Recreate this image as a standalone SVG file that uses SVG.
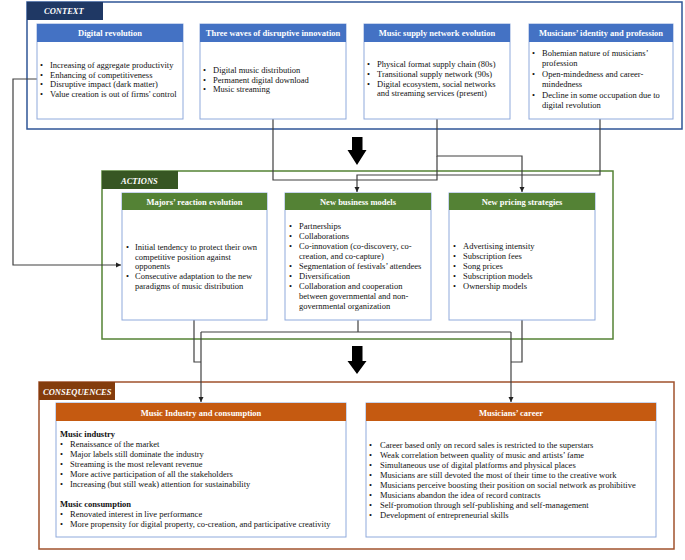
<svg xmlns="http://www.w3.org/2000/svg" width="685" height="560" viewBox="0 0 685 560">
<style>
text{font-family:"Liberation Serif","Times New Roman",serif;font-size:8.5px;fill:#111}
.hd{font-weight:bold;fill:#fff;text-anchor:middle}
.tab{font-weight:bold;font-style:italic;fill:#fff}
.b{font-weight:bold}
.box{fill:#fff;stroke:#8FAADC;stroke-width:1}
.con{fill:none;stroke:#404040;stroke-width:1.2}
</style>
<defs>
<marker id="ah" markerWidth="6" markerHeight="6" refX="5" refY="3" orient="auto" markerUnits="userSpaceOnUse">
<path d="M0,0.5 L5,3 L0,5.5 Z" fill="#222"/>
</marker>
</defs>
<rect width="685" height="560" fill="#fff"/>

<!-- Frames -->
<g id="context-frame">
<rect x="27" y="2" width="655" height="127" fill="none" stroke="#2F5597" stroke-width="1.5"/>
<rect x="27" y="2" width="76" height="18" fill="#1F3864"/>
<text class="tab" x="44" y="14">CONTEXT</text>
</g>
<g id="actions-frame">
<rect x="102" y="171" width="511" height="168" fill="none" stroke="#548235" stroke-width="1.5"/>
<rect x="102" y="171" width="76" height="18" fill="#375623"/>
<text class="tab" x="121" y="183.5">ACTIONS</text>
</g>
<g id="consequences-frame">
<rect x="39" y="382" width="635" height="167" fill="none" stroke="#A0522D" stroke-width="1.5"/>
<rect x="39" y="382" width="76" height="18" fill="#843C0C"/>
<text class="tab" x="43" y="394.5">CONSEQUENCES</text>
</g>

<!-- Connectors -->
<g id="connectors">
<polyline class="con" points="37,79 13,79 13,265 121,265" marker-end="url(#ah)"/>
<polyline class="con" points="273,119 273,180 437,180 437,156"/>
<polyline class="con" points="437,119 437,156 522,156 522,192" marker-end="url(#ah)"/>
<polyline class="con" points="600,119 600,175 357,175 357,192" marker-end="url(#ah)"/>
<polyline class="con" points="194,320 194,362 201,362"/>
<polyline class="con" points="358,320 358,332"/>
<polyline class="con" points="201,332 511,332"/>
<polyline class="con" points="201,332 201,402" marker-end="url(#ah)"/>
<polyline class="con" points="511,332 511,402" marker-end="url(#ah)"/>
<polyline class="con" points="522,320 522,362 511,362"/>
<path d="M352,137 H362.5 V150 H366.5 L357,165 L347.5,150 H352 Z" fill="#000"/>
<path d="M352,346 H362.5 V361 H366.5 L357,374 L347.5,361 H352 Z" fill="#000"/>
</g>

<!-- Context boxes -->
<g id="digital-revolution">
<rect class="box" x="37" y="24" width="146" height="95"/>
<rect x="37" y="24" width="146" height="18" fill="#4472C4"/>
<text class="hd" x="110" y="36">Digital revolution</text>
<text x="40" y="68">•</text><text x="50" y="68">Increasing of aggregate productivity</text>
<text x="40" y="77.7">•</text><text x="50" y="77.7">Enhancing of competitiveness</text>
<text x="40" y="87.4">•</text><text x="50" y="87.4">Disruptive impact (dark matter)</text>
<text x="40" y="97.1">•</text><text x="50" y="97.1">Value creation is out of firms' control</text>
</g>
<g id="three-waves">
<rect class="box" x="200" y="24" width="146" height="95"/>
<rect x="200" y="24" width="146" height="18" fill="#4472C4"/>
<text class="hd" x="273" y="36">Three waves of disruptive innovation</text>
<text x="203" y="73">•</text><text x="213" y="73">Digital music distribution</text>
<text x="203" y="82.7">•</text><text x="213" y="82.7">Permanent digital download</text>
<text x="203" y="92.4">•</text><text x="213" y="92.4">Music streaming</text>
</g>
<g id="music-supply">
<rect class="box" x="364" y="24" width="146" height="95"/>
<rect x="364" y="24" width="146" height="18" fill="#4472C4"/>
<text class="hd" x="437" y="36">Music supply network evolution</text>
<text x="367" y="67">•</text><text x="377" y="67">Physical format supply chain (80s)</text>
<text x="367" y="76.8">•</text><text x="377" y="76.8">Transitional supply network (90s)</text>
<text x="367" y="86.6">•</text><text x="377" y="86.6">Digital ecosystem, social networks</text>
<text x="377" y="96.4">and streaming services (present)</text>
</g>
<g id="musicians-identity">
<rect class="box" x="529" y="24" width="144" height="95"/>
<rect x="529" y="24" width="144" height="18" fill="#4472C4"/>
<text class="hd" x="601" y="36">Musicians’ identity and profession</text>
<text x="532" y="56">•</text><text x="542" y="56">Bohemian nature of musicians’</text>
<text x="542" y="66">profession</text>
<text x="532" y="76.5">•</text><text x="542" y="76.5">Open-mindedness and career-</text>
<text x="542" y="86.5">mindedness</text>
<text x="532" y="97.5">•</text><text x="542" y="97.5">Decline in some occupation due to</text>
<text x="542" y="107.5">digital revolution</text>
</g>

<!-- Action boxes -->
<g id="majors-reaction">
<rect class="box" x="122" y="193" width="145" height="127"/>
<rect x="122" y="193" width="145" height="17" fill="#548235"/>
<text class="hd" x="194.5" y="205">Majors’ reaction evolution</text>
<text x="126" y="250">•</text><text x="135" y="250">Initial tendency to protect their own</text>
<text x="135" y="259.7">competitive position against</text>
<text x="135" y="269.4">opponents</text>
<text x="126" y="279.1">•</text><text x="135" y="279.1">Consecutive adaptation to the new</text>
<text x="135" y="288.8">paradigms of music distribution</text>
</g>
<g id="business-models">
<rect class="box" x="285" y="193" width="146" height="127"/>
<rect x="285" y="193" width="146" height="17" fill="#548235"/>
<text class="hd" x="358" y="205">New business models</text>
<text x="289" y="228.5">•</text><text x="299" y="228.5">Partnerships</text>
<text x="289" y="238.5">•</text><text x="299" y="238.5">Collaborations</text>
<text x="289" y="248.5">•</text><text x="299" y="248.5">Co-innovation (co-discovery, co-</text>
<text x="299" y="258.5">creation, and co-capture)</text>
<text x="289" y="268.5">•</text><text x="299" y="268.5">Segmentation of festivals’ attendees</text>
<text x="289" y="278.5">•</text><text x="299" y="278.5">Diversification</text>
<text x="289" y="288.5">•</text><text x="299" y="288.5">Collaboration and cooperation</text>
<text x="299" y="298.5">between governmental and non-</text>
<text x="299" y="308.5">governmental organization</text>
</g>
<g id="pricing-strategies">
<rect class="box" x="449" y="193" width="146" height="127"/>
<rect x="449" y="193" width="146" height="17" fill="#548235"/>
<text class="hd" x="522" y="205">New pricing strategies</text>
<text x="453" y="248.5">•</text><text x="463" y="248.5">Advertising intensity</text>
<text x="453" y="258.5">•</text><text x="463" y="258.5">Subscription fees</text>
<text x="453" y="268.5">•</text><text x="463" y="268.5">Song prices</text>
<text x="453" y="278.5">•</text><text x="463" y="278.5">Subscription models</text>
<text x="453" y="288.5">•</text><text x="463" y="288.5">Ownership models</text>
</g>

<!-- Consequence boxes -->
<g id="music-industry">
<rect class="box" x="56" y="403" width="290" height="134"/>
<rect x="56" y="403" width="290" height="18" fill="#C55A11"/>
<text class="hd" x="201" y="416">Music Industry and consumption</text>
<text class="b" x="60" y="437">Music industry</text>
<text x="60" y="446.5">•</text><text x="70" y="446.5">Renaissance of the market</text>
<text x="60" y="456.7">•</text><text x="70" y="456.7">Major labels still dominate the industry</text>
<text x="60" y="466.9">•</text><text x="70" y="466.9">Streaming is the most relevant revenue</text>
<text x="60" y="477.1">•</text><text x="70" y="477.1">More active participation of all the stakeholders</text>
<text x="60" y="487.3">•</text><text x="70" y="487.3">Increasing (but still weak) attention for sustainability</text>
<text class="b" x="60" y="507">Music consumption</text>
<text x="60" y="517">•</text><text x="70" y="517">Renovated interest in live performance</text>
<text x="60" y="527.2">•</text><text x="70" y="527.2">More propensity for digital property, co-creation, and participative creativity</text>
</g>
<g id="musicians-career">
<rect class="box" x="366" y="403" width="290" height="134"/>
<rect x="366" y="403" width="290" height="18" fill="#C55A11"/>
<text class="hd" x="511" y="416">Musicians’ career</text>
<text x="369" y="448">•</text><text x="380" y="448">Career based only on record sales is restricted to the superstars</text>
<text x="369" y="458">•</text><text x="380" y="458">Weak correlation between quality of music and artists’ fame</text>
<text x="369" y="468">•</text><text x="380" y="468">Simultaneous use of digital platforms and physical places</text>
<text x="369" y="478">•</text><text x="380" y="478">Musicians are still devoted the most of their time to the creative work</text>
<text x="369" y="488">•</text><text x="380" y="488">Musicians perceive boosting their position on social network as prohibitive</text>
<text x="369" y="498">•</text><text x="380" y="498">Musicians abandon the idea of record contracts</text>
<text x="369" y="508">•</text><text x="380" y="508">Self-promotion through self-publishing and self-management</text>
<text x="369" y="518">•</text><text x="380" y="518">Development of entrepreneurial skills</text>
</g>
</svg>
